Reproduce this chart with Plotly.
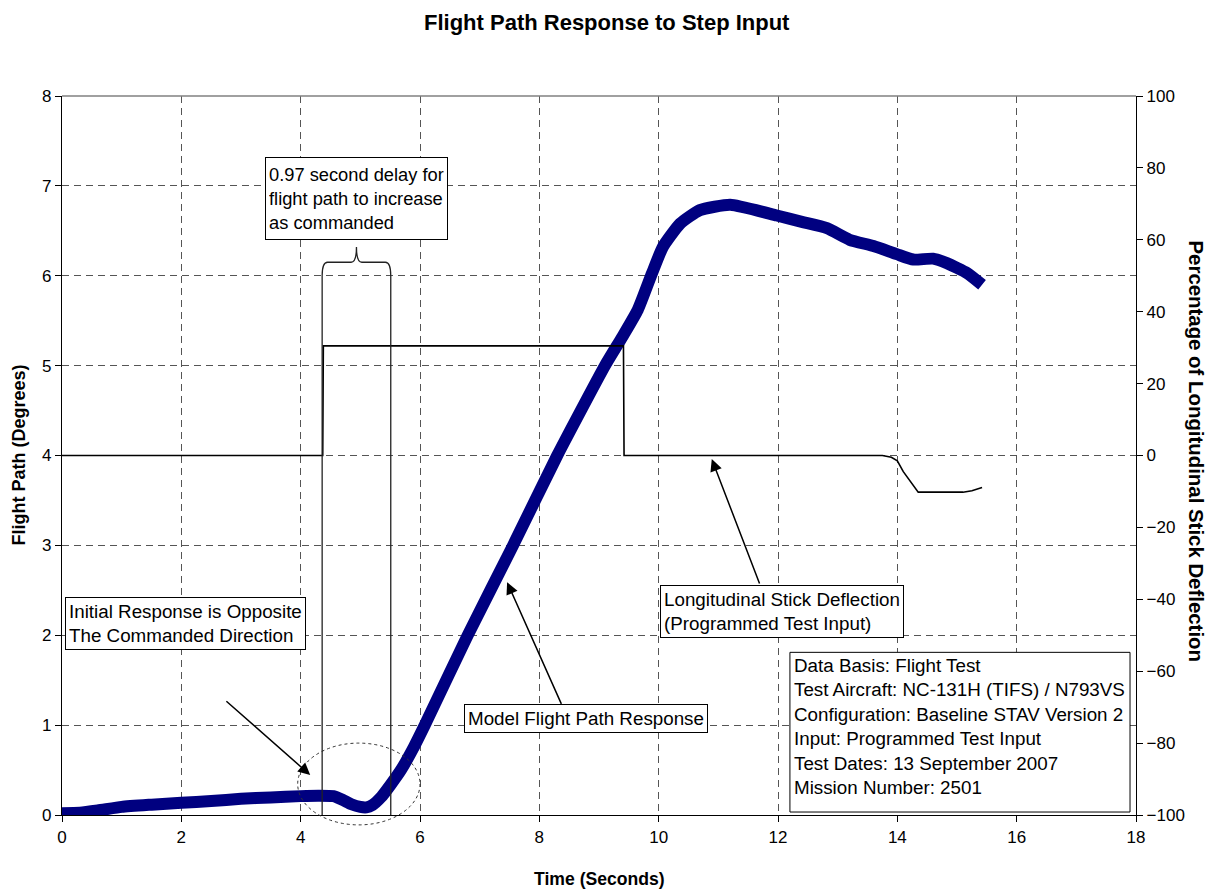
import plotly.graph_objects as go

# Model flight path response (degrees) against time (seconds)
time_fp = [0.0, 0.3, 0.6, 1.0, 1.5, 2.0, 2.5, 3.0, 3.5, 4.0, 4.3, 4.55, 4.7, 4.85,
           5.0, 5.1, 5.2, 5.35, 5.5, 5.68, 5.9, 6.08, 6.8, 7.56, 8.3, 9.1, 9.4,
           9.65, 9.89, 10.07, 10.36, 10.69, 11.2, 11.98, 12.4, 12.82, 13.2, 13.6,
           13.99, 14.27, 14.6, 14.83, 15.17, 15.42]
flight_path = [0.02, 0.025, 0.05, 0.09, 0.115, 0.137, 0.155, 0.18, 0.195, 0.21, 0.215,
               0.21, 0.17, 0.12, 0.09, 0.085, 0.11, 0.2, 0.33, 0.5, 0.76, 1.0, 2.0,
               3.0, 4.0, 5.0, 5.33, 5.62, 6.03, 6.32, 6.58, 6.73, 6.79, 6.67, 6.6,
               6.53, 6.4, 6.33, 6.24, 6.18, 6.19, 6.14, 6.03, 5.9]

# Programmed longitudinal stick deflection (percent)
time_stick = [0.0, 4.37, 4.38, 9.41, 9.42, 13.75, 13.9, 14.0, 14.1, 14.35, 15.1,
              15.25, 15.42]
stick_pct = [0.0, 0.0, 30.5, 30.5, 0.0, 0.0, -0.5, -1.5, -4.5, -10.2, -10.2, -9.8, -8.9]

x_ticks = list(range(0, 19, 2))
y_ticks = list(range(0, 9))
y2_ticks = list(range(-100, 101, 20))

x_max, y_max = 18, 8
FONT = "Liberation Sans, Arial, sans-serif"
GRID = "#555555"

fig = go.Figure()
fig.add_trace(go.Scatter(
    x=time_fp, y=flight_path, mode="lines", name="Model Flight Path Response",
    line=dict(color="#000080", width=12, shape="spline", smoothing=0.5),
))
fig.add_trace(go.Scatter(
    x=time_stick, y=stick_pct, yaxis="y2", mode="lines",
    name="Longitudinal Stick Deflection",
    line=dict(color="black", width=1.6),
))


def paper_x(t):
    return t / x_max


def paper_y(v):
    return v / y_max


shapes = [
    # upper border of the plot area
    dict(type="line", xref="paper", yref="paper", x0=0, x1=1, y0=1, y1=1,
         line=dict(color="#808080", width=1.5)),
    # dashed ellipse around the initial reversal
    dict(type="circle", xref="paper", yref="paper",
         x0=paper_x(3.95), x1=paper_x(6.0), y0=paper_y(-0.11), y1=paper_y(0.8),
         line=dict(color="#333333", width=1, dash="3px,3px")),
    # frame of the test information block
    dict(type="rect", xref="x", yref="y", x0=12.2, x1=17.9, y0=0.033, y1=1.81,
         fillcolor="white", line=dict(color="black", width=1), layer="above"),
]

# bracket marking the delay between stick input and flight path rise
bx0, bx1, by, btip, bdrop = 4.36, 5.51, 6.15, 6.32, 6.0
bm = (bx0 + bx1) / 2
d = 0.09
brace = (f"M {bx0},0 L {bx0},{bdrop} Q {bx0},{by} {bx0 + d},{by} "
         f"L {bm - d},{by} Q {bm},{by} {bm},{btip} Q {bm},{by} {bm + d},{by} "
         f"L {bx1 - d},{by} Q {bx1},{by} {bx1},{bdrop} L {bx1},0")
shapes.append(dict(type="path", xref="x", yref="y", path=brace,
                   line=dict(color="#222222", width=1.3), layer="above"))

box_style = dict(bgcolor="white", bordercolor="black", borderwidth=1, borderpad=3,
                 align="left", xanchor="left", yanchor="top", showarrow=False,
                 font=dict(family=FONT, size=18.8, color="black"), xref="x", yref="y")

annotations = [
    dict(text="<b>Flight Path Response to Step Input</b>", xref="paper", yref="paper",
         x=0.5 + 8 / 1074, y=1 + 74 / 719, xanchor="center", yanchor="middle",
         showarrow=False, font=dict(family=FONT, size=22, color="black")),
    dict(text="<b>Time (Seconds)</b>", xref="paper", yref="paper", x=0.5,
         y=-64 / 719, xanchor="center", yanchor="middle", showarrow=False,
         font=dict(family=FONT, size=17.6, color="black")),
    dict(text="<b>Flight Path (Degrees)</b>", xref="paper", yref="paper",
         x=-44 / 1074, y=0.5, textangle=-90, xanchor="center", yanchor="middle",
         showarrow=False, font=dict(family=FONT, size=18, color="black")),
    dict(text="<b>Percentage of Longitudinal Stick Deflection</b>", xref="paper",
         yref="paper", x=1 + 60 / 1074, y=0.5 + 5 / 719, textangle=90,
         xanchor="center", yanchor="middle", showarrow=False,
         font=dict(family=FONT, size=20.4, color="black")),
    dict(box_style, text="0.97 second delay for<br>flight path to increase<br>as commanded",
         x=3.4, y=7.32, height=75, valign="middle",
         font=dict(family=FONT, size=18.3, color="black")),
    dict(box_style, text="Initial Response is Opposite<br>The Commanded Direction",
         x=0.05, y=2.425),
    dict(box_style, text="Model Flight Path Response", x=6.74, y=1.235),
    dict(box_style, text="Longitudinal Stick Deflection<br>(Programmed Test Input)",
         x=10.02, y=2.56),
    dict(box_style, text=("Data Basis: Flight Test<br>"
                          "Test Aircraft: NC-131H (TIFS) / N793VS<br>"
                          "Configuration: Baseline STAV Version 2<br>"
                          "Input: Programmed Test Input<br>"
                          "Test Dates: 13 September 2007<br>"
                          "Mission Number: 2501"),
         x=12.22, y=1.81, bgcolor="rgba(0,0,0,0)", borderwidth=0),
]

arrow_style = dict(xref="x", yref="y", axref="x", ayref="y", text="", showarrow=True,
                   arrowhead=2, arrowsize=1.6, arrowwidth=1.5, arrowcolor="black")
annotations += [
    dict(arrow_style, x=4.16, y=0.445, ax=2.73, ay=1.28),
    dict(arrow_style, x=7.46, y=2.59, ax=8.38, ay=1.22),
    dict(arrow_style, x=10.89, y=3.96, ax=11.70, ay=2.56),
]

axis_common = dict(showline=True, linecolor="black", linewidth=1.3, ticks="outside",
                   ticklen=6, tickcolor="black", zeroline=False,
                   tickfont=dict(family=FONT, size=17, color="black"))

fig.update_layout(
    width=1215, height=890,
    margin=dict(l=62, r=79, t=96, b=75),
    paper_bgcolor="white", plot_bgcolor="white",
    showlegend=False,
    font=dict(family=FONT, size=17, color="black"),
    xaxis=dict(axis_common, range=[0, x_max], tickvals=x_ticks, showgrid=True,
               gridcolor=GRID, gridwidth=1, griddash="7px,5px"),
    yaxis=dict(axis_common, range=[0, y_max], tickvals=y_ticks, showgrid=True,
               gridcolor=GRID, gridwidth=1, griddash="7px,5px"),
    yaxis2=dict(axis_common, range=[-100, 100], tickvals=y2_ticks, overlaying="y",
                side="right", showgrid=False),
    # inner half of the crossing tick marks on the right-hand axis
    yaxis3=dict(range=[-100, 100], tickvals=y2_ticks, overlaying="y", side="right",
                showgrid=False, zeroline=False, showline=False, ticks="inside",
                ticklen=6, tickcolor="black", showticklabels=False),
    shapes=shapes,
    annotations=annotations,
)

fig.write_html("out.html")
